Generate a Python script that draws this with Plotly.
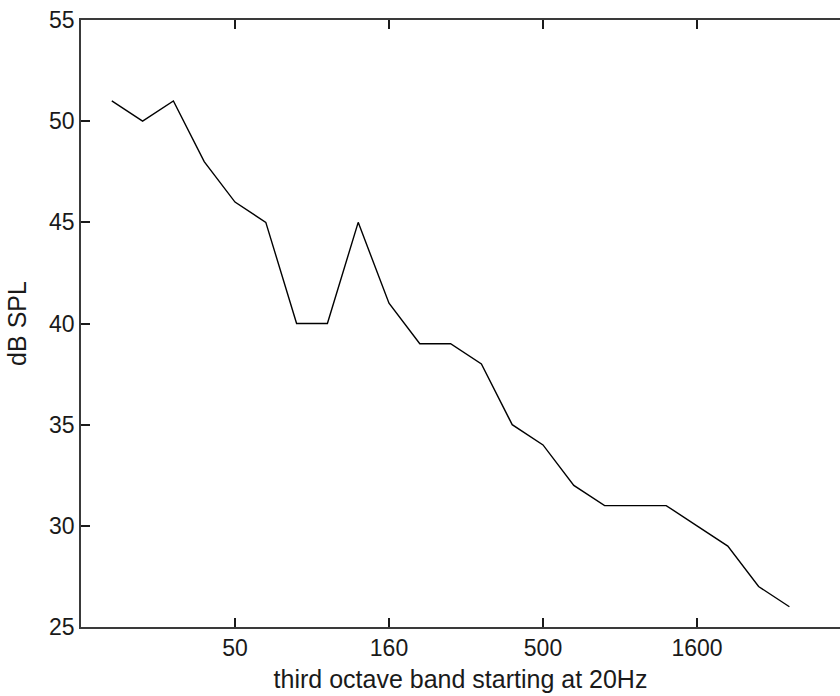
import plotly.graph_objects as go

# Third-octave band index (1 = 20 Hz) and measured level in dB SPL
band_index = list(range(1, 24))
spl_db = [51, 50, 51, 48, 46, 45, 40, 40, 45, 41, 39, 39, 38, 35, 34, 32, 31, 31, 31, 30, 29, 27, 26]

# Labelled band centres on the x axis
tick_index = [5, 10, 15, 20]
tick_text = ["50", "160", "500", "1600"]

y_ticks = [25, 30, 35, 40, 45, 50, 55]

font = dict(family="Liberation Sans, Arial, sans-serif", size=23, color="#1a1a1a")
title_font = dict(family="Liberation Sans, Arial, sans-serif", size=25, color="#1a1a1a")

fig = go.Figure()
fig.add_trace(go.Scatter(
    x=band_index, y=spl_db, mode="lines",
    line=dict(color="black", width=1.4),
    showlegend=False, hoverinfo="skip",
))

axis_common = dict(
    showgrid=False, zeroline=False,
    showline=True, linecolor="#3a3a3a", linewidth=1.5,
    ticks="inside", ticklen=9, tickwidth=2, tickcolor="#1a1a1a",
    tickfont=font,
)

fig.update_layout(
    width=840, height=696,
    margin=dict(l=81, r=0, t=20, b=69),
    paper_bgcolor="white", plot_bgcolor="white",
    font=font,
    xaxis=dict(
        range=[0, (840 - 81) / 30.8],
        tickmode="array", tickvals=tick_index, ticktext=tick_text,
        mirror="ticks",
        title=dict(text="third octave band starting at 20Hz", font=title_font, standoff=10),
        **axis_common,
    ),
    yaxis=dict(
        range=[25, 55],
        tickmode="array", tickvals=y_ticks,
        mirror=False,
        title=dict(text="dB SPL", font=title_font, standoff=15),
        **axis_common,
    ),
)

fig.write_html("out.html")
